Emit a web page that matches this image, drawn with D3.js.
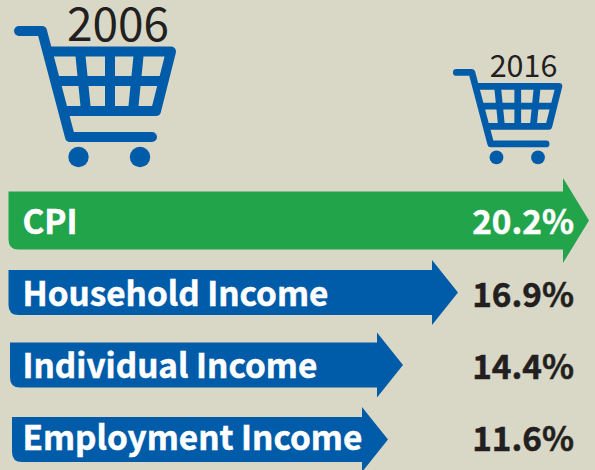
<!DOCTYPE html>
<html><head><meta charset="utf-8">
<script src="https://cdn.jsdelivr.net/npm/d3@7/dist/d3.min.js"></script>
<style>html,body{margin:0;padding:0;background:#d9d8c7}svg{display:block}
text{font-family:"Noto Sans CJK SC","Noto Sans",sans-serif}</style></head>
<body><div id="c"></div>
<script>
const categories=["CPI","Household Income","Individual Income","Employment Income"];
const values=[20.2,16.9,14.4,11.6];
const valueLabels=["20.2%","16.9%","14.4%","11.6%"];
const years=["2006","2016"];
const W=595,H=470;
const blue="#005ca9",green="#22a44b",ink="#231f20",bg="#d9d8c7";
const svg=d3.select("#c").append("svg").attr("width",W).attr("height",H);
svg.append("rect").attr("width",W).attr("height",H).attr("fill",bg);

// Arrow tips: infographic is not to linear scale, so a piecewise scale is used
const tip=d3.scaleLinear().domain([11.6,14.4,16.9,20.2]).range([388,403,458,589]);
const rowY=d3.scaleOrdinal().domain(categories).range([220.5,292.5,365,439.5]);
const left=d3.scaleOrdinal().domain(categories).range([8.5,8.5,10,12]);
const halfH=d3.scaleOrdinal().domain(categories).range([29,22.5,22.5,22.5]);
const headH=d3.scaleOrdinal().domain(categories).range([42.5,32.5,32.5,32.5]);
const labelY=d3.scaleOrdinal().domain(categories).range([234,306,378,450]);
const valueY=d3.scaleOrdinal().domain(categories).range([233.5,306.5,378.5,450.5]);
const headL=26,r=10;
function arrow(c,v){
  const x0=left(c),x1=tip(v),y=rowY(c),h=halfH(c),hh=headH(c),p=d3.path();
  p.moveTo(x0,y-h);p.lineTo(x1-headL,y-h);p.lineTo(x1-headL,y-hh);p.lineTo(x1,y);
  p.lineTo(x1-headL,y+hh);p.lineTo(x1-headL,y+h);p.lineTo(x0+r,y+h);
  p.quadraticCurveTo(x0,y+h,x0,y+h-r);p.closePath();return p.toString();
}
const rows=categories.map((c,i)=>({c,v:values[i],l:valueLabels[i],i}));
svg.selectAll("path.bar").data(rows).join("path").attr("class","bar")
  .attr("d",d=>arrow(d.c,d.v)).attr("fill",d=>d.i===0?green:blue);
svg.selectAll("text.cat").data(rows).join("text").attr("class","cat")
  .attr("x",22.5).attr("y",d=>labelY(d.c)).attr("fill","#fff")
  .attr("stroke","#fff").attr("stroke-width",0.5)
  .attr("font-weight",700).attr("font-size",33.3).text(d=>d.c);
svg.selectAll("text.val").data(rows).join("text").attr("class","val")
  .attr("x",574).attr("y",d=>valueY(d.c)).attr("text-anchor","end")
  .attr("fill",d=>d.i===0?"#fff":ink).attr("stroke",d=>d.i===0?"#fff":ink).attr("stroke-width",0.5)
  .attr("font-weight",700).attr("font-size",33.3).text(d=>d.l);

// Cart
const line=d3.line();
const frame=[[19,31],[42,31],[70,137],[152,137]];
const basket=[[51,51.5],[171,51.5],[156,111],[66,111]];
const mid=[[57,81],[163,81]];
const bars=[[[80,51],[86,111]],[[110,51],[110,111]],[[139,51],[133,111]]];
const wheels=[[78.5,157],[140,157]];
function cart(tx,ty,s){
  const g=svg.append("g").attr("transform",`translate(${tx},${ty}) scale(${s})`)
    .attr("fill","none").attr("stroke",blue).attr("stroke-width",10)
    .attr("stroke-linecap","round").attr("stroke-linejoin","round");
  g.append("path").attr("d",line(frame));
  g.append("path").attr("d",line(basket));
  g.append("path").attr("d",line(mid));
  bars.forEach(b=>g.append("path").attr("d",line(b)).attr("stroke-linecap","butt"));
  g.selectAll("circle").data(wheels).join("circle").attr("cx",d=>d[0]).attr("cy",d=>d[1])
    .attr("r",10.2).attr("fill",blue).attr("stroke","none");
}
cart(0,0,1);
cart(443.5,51.5,0.675);
svg.append("text").attr("x",118).attr("y",41).attr("text-anchor","middle").attr("fill",ink)
  .attr("font-size",46).text(years[0]);
svg.append("text").attr("x",523.5).attr("y",77).attr("text-anchor","middle").attr("fill",ink)
  .attr("font-size",30.5).text(years[1]);
</script></body></html>
